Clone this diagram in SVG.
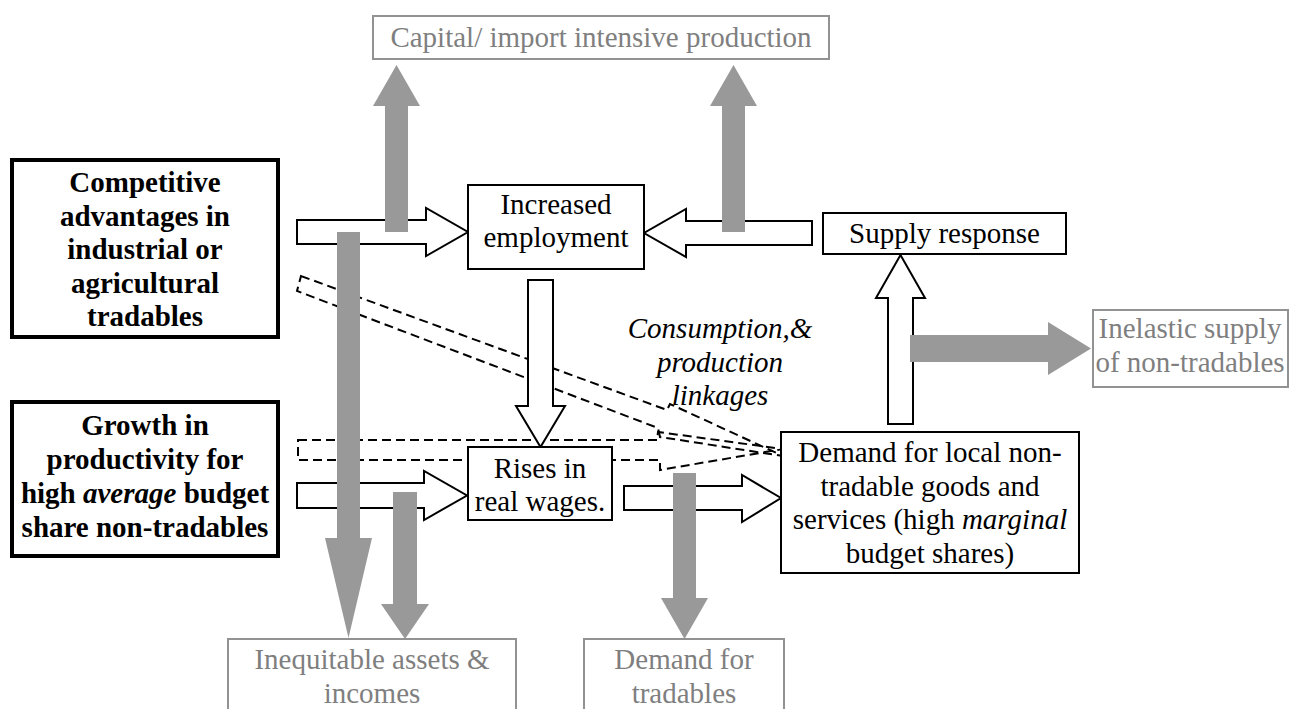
<svg xmlns="http://www.w3.org/2000/svg" width="1290" height="709" viewBox="0 0 1290 709" font-family="'Liberation Serif', 'Times New Roman', Times, 'DejaVu Serif', serif">
<style>
.t{font-family:"Liberation Serif","Times New Roman",Times,"DejaVu Serif","Noto Serif",serif;font-size:29px;text-anchor:middle;fill:#000}
.b{font-weight:bold}
.i{font-style:italic}
.g{fill:#7f7f7f}
.box{fill:#fff;stroke:#000;stroke-width:2}
.bbox{fill:#fff;stroke:#000;stroke-width:4}
.gbox{fill:#fff;stroke:#929292;stroke-width:2}
.wa{fill:#fff;stroke:#000;stroke-width:2;stroke-linejoin:miter}
.ga{fill:#999;stroke:none}
.da{fill:none;stroke:#000;stroke-width:2;stroke-dasharray:9 5}
</style>
<rect width="1290" height="709" fill="#fff"/>
<g id="connectors">
  <polygon class="da" points="301,276 667,410 670,404 783,456 660,437 658,428 297,291"/>
  <polygon class="da" points="298,440 657,440 658,432 783,449 660,470 660,460 298,460"/>
  <polygon class="wa" points="297,220 426,220 426,208 468,232 426,256 426,244 297,244"/>
  <polygon class="wa" points="812,221 686,221 686,209 644,233 686,257 686,245 812,245"/>
  <polygon class="wa" points="528,280 553,280 553,406 565,406 540.5,447 516,406 528,406"/>
  <polygon class="wa" points="297,483 424,483 424,471 467,495.5 424,520 424,508 297,508"/>
  <polygon class="wa" points="624,486 742,486 742,475 781,498 742,522 742,510 624,510"/>
  <polygon class="wa" points="888,424 888,298 876,298 900.5,255 925,298 913,298 913,424"/>
  <polygon class="ga" points="385,232 385,106 373,106 396.5,65 420,106 408,106 408,232"/>
  <polygon class="ga" points="722,232 722,106 710,106 733.5,65 757,106 745,106 745,232"/>
  <polygon class="ga" points="337,232 360,232 360,538 372,538 348.5,638 325,538 337,538"/>
  <polygon class="ga" points="393,492 417,492 417,604 429,604 405,639 381,604 393,604"/>
  <polygon class="ga" points="673,473 696,473 696,598 708,598 684.5,639 661,598 673,598"/>
  <polygon class="ga" points="910,335 1048,335 1048,322 1091,348.5 1048,375 1048,362 910,362"/>
</g>
<g id="capital">
  <rect class="gbox" x="373" y="16" width="456" height="43"/>
  <text class="t g" x="601" y="47">Capital/ import intensive production</text>
</g>
<g id="competitive">
  <rect class="bbox" x="12" y="160" width="266" height="177"/>
  <text class="t b" x="145" y="192">Competitive</text>
  <text class="t b" x="145" y="225.5">advantages in</text>
  <text class="t b" x="145" y="259">industrial or</text>
  <text class="t b" x="145" y="292.5">agricultural</text>
  <text class="t b" x="145" y="326">tradables</text>
</g>
<g id="growth">
  <rect class="bbox" x="12" y="402" width="266" height="154"/>
  <text class="t b" x="145" y="435">Growth in</text>
  <text class="t b" x="145" y="469">productivity for</text>
  <text class="t b" x="145" y="503">high <tspan class="i">average</tspan> budget</text>
  <text class="t b" x="145" y="537">share non-tradables</text>
</g>
<g id="increased">
  <rect class="box" x="468" y="185" width="176" height="84"/>
  <text class="t" x="556" y="214">Increased</text>
  <text class="t" x="556" y="247">employment</text>
</g>
<g id="supply">
  <rect class="box" x="823" y="213" width="243" height="41"/>
  <text class="t" x="944.5" y="243">Supply response</text>
</g>
<g id="inelastic">
  <rect class="gbox" x="1093" y="310" width="195" height="77"/>
  <text class="t g" x="1190" y="338">Inelastic supply</text>
  <text class="t g" x="1190" y="372">of non-tradables</text>
</g>
<g id="linkages">
  <text class="t i" x="720" y="338">Consumption,&amp;</text>
  <text class="t i" x="720" y="371.5">production</text>
  <text class="t i" x="720" y="405">linkages</text>
</g>
<g id="rises">
  <rect class="box" x="468" y="447" width="144" height="73"/>
  <text class="t" x="540" y="478">Rises in</text>
  <text class="t" x="540" y="511">real wages.</text>
</g>
<g id="demandlocal">
  <rect class="box" x="781" y="432" width="298" height="141"/>
  <text class="t" x="930" y="462">Demand for local non-</text>
  <text class="t" x="930" y="495.5">tradable goods and</text>
  <text class="t" x="930" y="529">services (high <tspan class="i">marginal</tspan></text>
  <text class="t" x="930" y="562.5">budget shares)</text>
</g>
<g id="inequitable">
  <rect class="gbox" x="228" y="639" width="288" height="80"/>
  <text class="t g" x="372" y="669">Inequitable assets &amp;</text>
  <text class="t g" x="372" y="703">incomes</text>
</g>
<g id="tradables">
  <rect class="gbox" x="584" y="639" width="200" height="80"/>
  <text class="t g" x="684" y="669">Demand for</text>
  <text class="t g" x="684" y="703">tradables</text>
</g>
</svg>
